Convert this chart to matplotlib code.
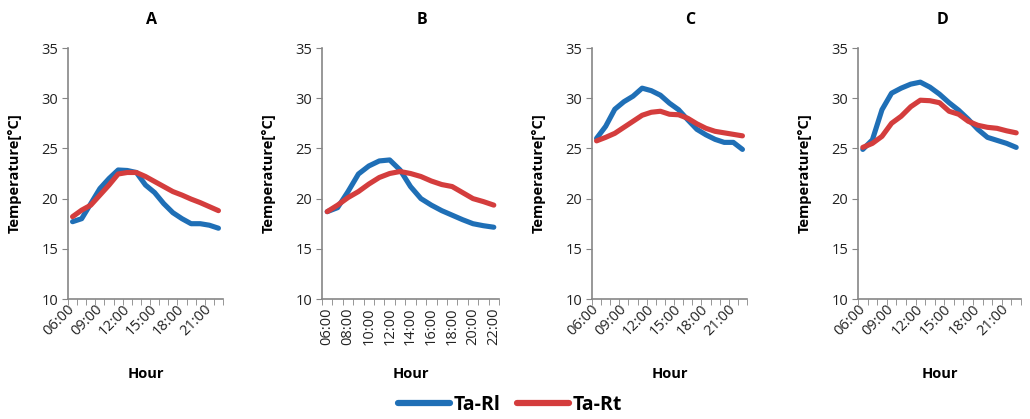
import numpy as np
import matplotlib
matplotlib.use('Agg')
import matplotlib.pyplot as plt
from matplotlib.lines import Line2D

plt.rcParams['font.family'] = ['Open Sans', 'DejaVu Sans']

hours = ['06:00', '07:00', '08:00', '09:00', '10:00', '11:00', '12:00', '13:00', '14:00',
         '15:00', '16:00', '17:00', '18:00', '19:00', '20:00', '21:00', '22:00']

# Ta-Rl (blue) and Ta-Rt (red) for each panel
a_rl = [17.7, 18.0, 19.5, 21.0, 22.0, 22.85, 22.8, 22.6, 21.35, 20.6, 19.5, 18.6, 18.0, 17.5, 17.5, 17.35, 17.05]
a_rt = [18.2, 18.85, 19.35, 20.35, 21.35, 22.45, 22.6, 22.6, 22.2, 21.7, 21.2, 20.7, 20.35, 19.95, 19.6, 19.2, 18.8]
b_rl = [18.7, 19.1, 20.7, 22.45, 23.25, 23.75, 23.85, 22.85, 21.2, 20.0, 19.35, 18.8, 18.35, 17.9, 17.5, 17.3, 17.15]
b_rt = [18.7, 19.35, 20.1, 20.7, 21.45, 22.1, 22.5, 22.7, 22.5, 22.2, 21.75, 21.4, 21.2, 20.6, 20.0, 19.7, 19.35]
c_rl = [26.0, 27.2, 28.9, 29.65, 30.2, 31.0, 30.75, 30.3, 29.5, 28.85, 27.85, 26.9, 26.35, 25.9, 25.6, 25.6, 24.9]
c_rt = [25.75, 26.1, 26.5, 27.1, 27.7, 28.3, 28.6, 28.7, 28.4, 28.35, 28.0, 27.45, 27.0, 26.7, 26.55, 26.4, 26.25]
d_rl = [24.9, 25.85, 28.85, 30.5, 31.0, 31.4, 31.6, 31.1, 30.4, 29.55, 28.8, 27.9, 26.9, 26.1, 25.8, 25.5, 25.1]
d_rt = [25.1, 25.5, 26.2, 27.5, 28.2, 29.15, 29.8, 29.75, 29.55, 28.7, 28.4, 27.7, 27.3, 27.1, 27.0, 26.75, 26.55]

panels = ['A', 'B', 'C', 'D']
series = [(a_rl, a_rt), (b_rl, b_rt), (c_rl, c_rt), (d_rl, d_rt)]
label_step = [3, 2, 3, 3]
label_rot = [45, 90, 45, 45]

blue = '#1f6fb6'
red = '#d43d3d'
grey = '#868686'

W, H = 1030, 419
fig = plt.figure(figsize=(W / 100, H / 100), dpi=100)

# axes boxes in pixels: left, right
boxes = [(68, 223), (322, 499), (592, 747), (858, 1021)]
top, bottom = 48, 299
title_x = [152, 422, 690, 942]

x = np.arange(len(hours))
for k, (l, r) in enumerate(boxes):
    ax = fig.add_axes([l / W, 1 - bottom / H, (r - l) / W, (bottom - top) / H])
    rl, rt = series[k]
    ax.plot(x, rl, color=blue, lw=3.7, solid_capstyle='round', zorder=3)
    ax.plot(x, rt, color=red, lw=3.7, solid_capstyle='round', zorder=4)
    ax.set_xlim(-0.5, len(hours) - 0.5)
    ax.set_ylim(10, 35)
    ax.set_yticks(range(10, 36, 5))
    for s in ['top', 'right']:
        ax.spines[s].set_visible(False)
    for s in ['left', 'bottom']:
        ax.spines[s].set_color(grey)
        ax.spines[s].set_linewidth(1.2)
    ax.tick_params(axis='y', direction='out', length=4, color=grey, labelsize=10.5, pad=3, labelcolor='#222222')
    ticks = x[::label_step[k]]
    ax.set_xticks(ticks)
    ax.set_xticklabels([hours[i] for i in ticks], rotation=label_rot[k],
                       ha='right', va='center', rotation_mode='anchor')
    ax.set_xticks(np.arange(-0.5, len(hours)), minor=True)
    ax.tick_params(axis='x', which='major', length=0, labelsize=10.5, pad=6, labelcolor='#222222')
    ax.tick_params(axis='x', which='minor', direction='out', length=4, color=grey)
    ax.set_xlabel('Hour', fontsize=10.5, fontweight='bold')
    ax.xaxis.set_label_coords(0.5, -(367 - bottom) / (bottom - top))
    ax.set_ylabel('Temperature[°C]', fontsize=10.5, fontweight='bold')
    ax.yaxis.set_label_coords(-46 / (r - l), 0.5)
    ax.text((title_x[k] - l) / (r - l), 1 + 28 / (bottom - top), panels[k],
            transform=ax.transAxes, ha='center', va='center', fontsize=11.5, fontweight='bold')

handles = [Line2D([], [], color=blue, lw=4.5, solid_capstyle='round'),
           Line2D([], [], color=red, lw=4.5, solid_capstyle='round')]
fig.legend(handles, ['Ta-Rl', 'Ta-Rt'], loc='center', bbox_to_anchor=(510 / W, 1 - 405 / H),
           ncol=2, frameon=False, handlelength=2.7, handletextpad=0.2, columnspacing=0.8,
           prop={'weight': 'bold', 'size': 14})

fig.savefig('out.png', dpi=100)
